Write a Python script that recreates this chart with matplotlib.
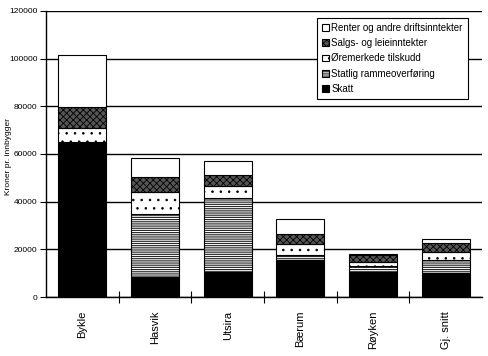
import numpy as np
import matplotlib
matplotlib.use('Agg')
import matplotlib.pyplot as plt

# --- data (kroner pr. innbygger) ---
kommuner  = ['Bykle', 'Hasvik', 'Utsira', 'Bærum', 'Røyken', 'Gj. snitt']
skatt     = [65200, 8500, 10600, 15700, 10400, 10200]
statlig   = [0, 26300, 30800, 1800, 2700, 5300]
oremerket = [5600, 9400, 5300, 4600, 1700, 3500]
salg      = [9000, 6000, 4500, 4300, 2700, 3800]
renter    = [21700, 8000, 5700, 6200, 600, 1700]

series = [
    ('Skatt', skatt, 'black', ''),
    ('Statlig rammeoverføring', statlig, 'white', '---------'),
    ('Øremerkede tilskudd', oremerket, 'white', '..'),
    ('Salgs- og leieinntekter', salg, '#555555', 'xxxxx'),
    ('Renter og andre driftsinntekter', renter, 'white', ''),
]

plt.rcParams['font.family'] = ['Liberation Sans', 'DejaVu Sans']
plt.rcParams['hatch.linewidth'] = 0.6

fig = plt.figure(figsize=(4.89, 3.56), dpi=100)
ax = fig.add_axes([46/489, 59/356, 436/489, 286/356])

x = np.arange(len(kommuner))
bottom = np.zeros(len(kommuner))
handles = []
for name, vals, fc, hatch in series:
    b = ax.bar(x, vals, 0.66, bottom=bottom, color=fc, edgecolor='black',
               hatch=hatch, linewidth=0.8, label=name, zorder=3)
    bottom += np.array(vals)
    handles.append(b)

ax.set_xlim(-0.5, len(kommuner) - 0.5)
ax.set_ylim(0, 120000)
ax.set_yticks(np.arange(0, 120001, 20000))
ax.yaxis.grid(True, color='black', linewidth=1)
ax.set_axisbelow(True)
for s in ['top', 'right']:
    ax.spines[s].set_visible(False)
ax.spines['left'].set_linewidth(1)
ax.spines['bottom'].set_linewidth(1)
ax.tick_params(axis='y', labelsize=6, length=4, direction='out', pad=2)

# category boundaries as ticks, names as minor labels
ax.set_xticks(np.arange(0.5, len(kommuner) - 0.5, 1))
ax.set_xticklabels([])
ax.tick_params(axis='x', which='major', direction='inout', length=8)
ax.set_xticks(x, minor=True)
ax.set_xticklabels(kommuner, minor=True, rotation=90, fontsize=8)
ax.tick_params(axis='x', which='minor', length=0, pad=10)

fig.text(9/489, 0.56, 'Kroner pr. innbygger', rotation=90, fontsize=6,
         ha='center', va='center')

leg = ax.legend(handles[::-1], [s[0] for s in series][::-1],
                loc='upper left', bbox_to_anchor=(312/489, 1 - 13/356),
                bbox_transform=fig.transFigure, fontsize=7, fancybox=False,
                edgecolor='black', framealpha=1, handlelength=0.7,
                handleheight=0.7, handletextpad=0.3, borderpad=0.5,
                labelspacing=0.55)
leg.get_frame().set_linewidth(0.8)

fig.savefig('out.png', dpi=100)
